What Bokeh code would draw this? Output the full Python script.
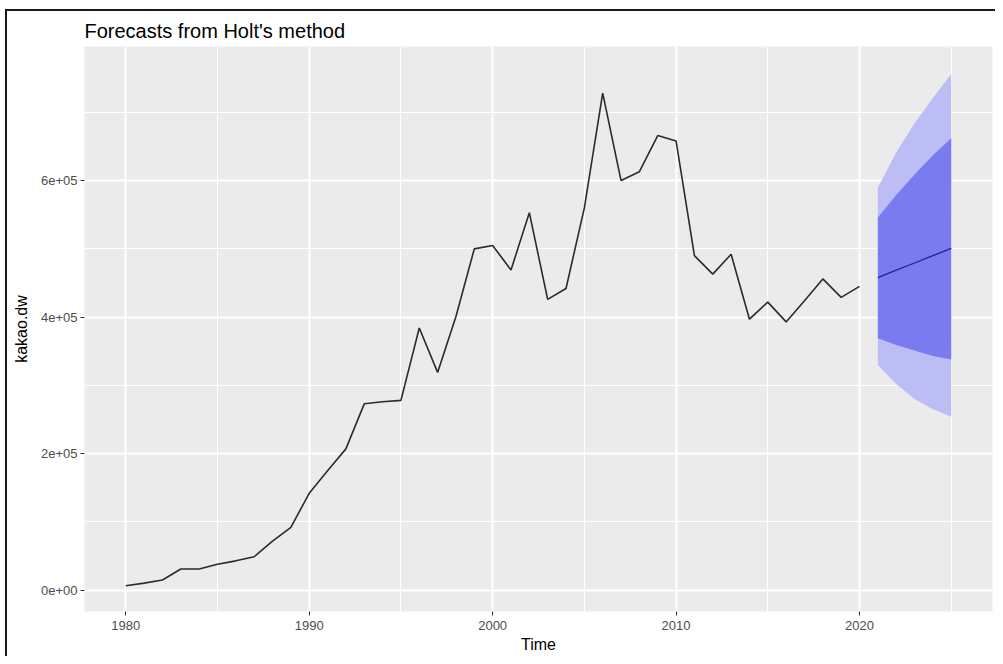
from bokeh.plotting import figure
from bokeh.models import Range1d, SingleIntervalTicker, CustomJSTickFormatter, InlineStyleSheet
from bokeh.embed import file_html
from bokeh.resources import INLINE

# ---- data ----
years = list(range(1980, 2021))
kakao_dw = [6500, 10400, 15000, 31000, 31000, 38000, 43000, 49000, 72000, 92000,
            142000, 175000, 207000, 273000, 276000, 278000, 384000, 319000, 401000, 500000,
            505000, 469000, 553000, 426000, 442000, 560000, 728000, 600000, 613000, 666000,
            658000, 490000, 463000, 492000, 397000, 422000, 393000, 424000, 456000, 429000,
            445000]

fc_years = [2021, 2022, 2023, 2024, 2025]
fc_mean = [458000, 468700, 479300, 490000, 500700]
lo80 = [369000, 359000, 351000, 343000, 338000]
hi80 = [546000, 579000, 609000, 637000, 662000]
lo95 = [330000, 302000, 280000, 265000, 254000]
hi95 = [590000, 641000, 684000, 721000, 756000]

title_text = "Forecasts from Holt's method"
x_title = "Time"
y_title = "kakao.dw"

FONT = "Liberation Sans"

p = figure(width=995, height=656, output_backend="svg", toolbar_location=None,
           x_range=Range1d(1977.75, 2027.25), y_range=Range1d(-31200, 796400),
           min_border_left=84, min_border_right=3, min_border_top=46, min_border_bottom=45,
           background_fill_color="#EBEBEB", border_fill_color="white")
p.outline_line_color = None

# outer frame of the picture (top and left edges), drawn with CSS over the canvas
p.stylesheets = [InlineStyleSheet(css="""
:host { position: relative; }
:host::after {
    content: "";
    position: absolute;
    left: 5px; top: 9px; right: 0px; bottom: 0px;
    border-top: 2px solid #1a1a1a;
    border-left: 2px solid #1a1a1a;
    pointer-events: none;
    z-index: 100;
}
""")]

# fan chart
p.varea(x=fc_years, y1=lo95, y2=hi95, fill_color="#BDBDF6", fill_alpha=1.0)
p.varea(x=fc_years, y1=lo80, y2=hi80, fill_color="#7B7BF0", fill_alpha=1.0)
p.line(x=fc_years, y=fc_mean, line_color="#1E1EA8", line_width=1.3)

# history
p.line(x=years, y=kakao_dw, line_color="#2b2b2b", line_width=1.6)

# title
p.title.text = title_text
p.title.text_font = FONT
p.title.text_font_size = "20px"
p.title.text_font_style = "normal"
p.title.text_color = "black"
p.title.align = "left"

# tickers
p.xaxis.ticker = SingleIntervalTicker(interval=10, num_minor_ticks=2)
p.yaxis.ticker = SingleIntervalTicker(interval=200000, num_minor_ticks=2)
p.yaxis.formatter = CustomJSTickFormatter(code="""
    var s = tick.toExponential(0);
    var parts = s.split('e');
    var sign = parts[1][0];
    var d = parts[1].slice(1);
    if (d.length < 2) { d = '0' + d; }
    return parts[0] + 'e' + sign + d;
""")

for ax in (p.xaxis, p.yaxis):
    ax.axis_line_color = None
    ax.minor_tick_line_color = None
    ax.major_tick_line_color = "#333333"
    ax.major_tick_line_width = 1
    ax.major_tick_out = 4
    ax.major_tick_in = 0
    ax.major_label_text_font = FONT
    ax.major_label_text_font_size = "13px"
    ax.major_label_text_color = "#4D4D4D"
    ax.axis_label_text_font = FONT
    ax.axis_label_text_font_size = "16px"
    ax.axis_label_text_font_style = "normal"
    ax.axis_label_text_color = "black"

p.xaxis.axis_label = x_title
p.yaxis.axis_label = y_title
p.xaxis.major_label_standoff = 5
p.xaxis.axis_label_standoff = 3
p.yaxis.major_label_standoff = 3
p.yaxis.axis_label_standoff = 8

for g in (p.xgrid, p.ygrid):
    g.grid_line_color = "white"
    g.grid_line_width = 2
    g.minor_grid_line_color = "white"
    g.minor_grid_line_width = 1

open("out.html", "w").write(file_html(p, INLINE))
